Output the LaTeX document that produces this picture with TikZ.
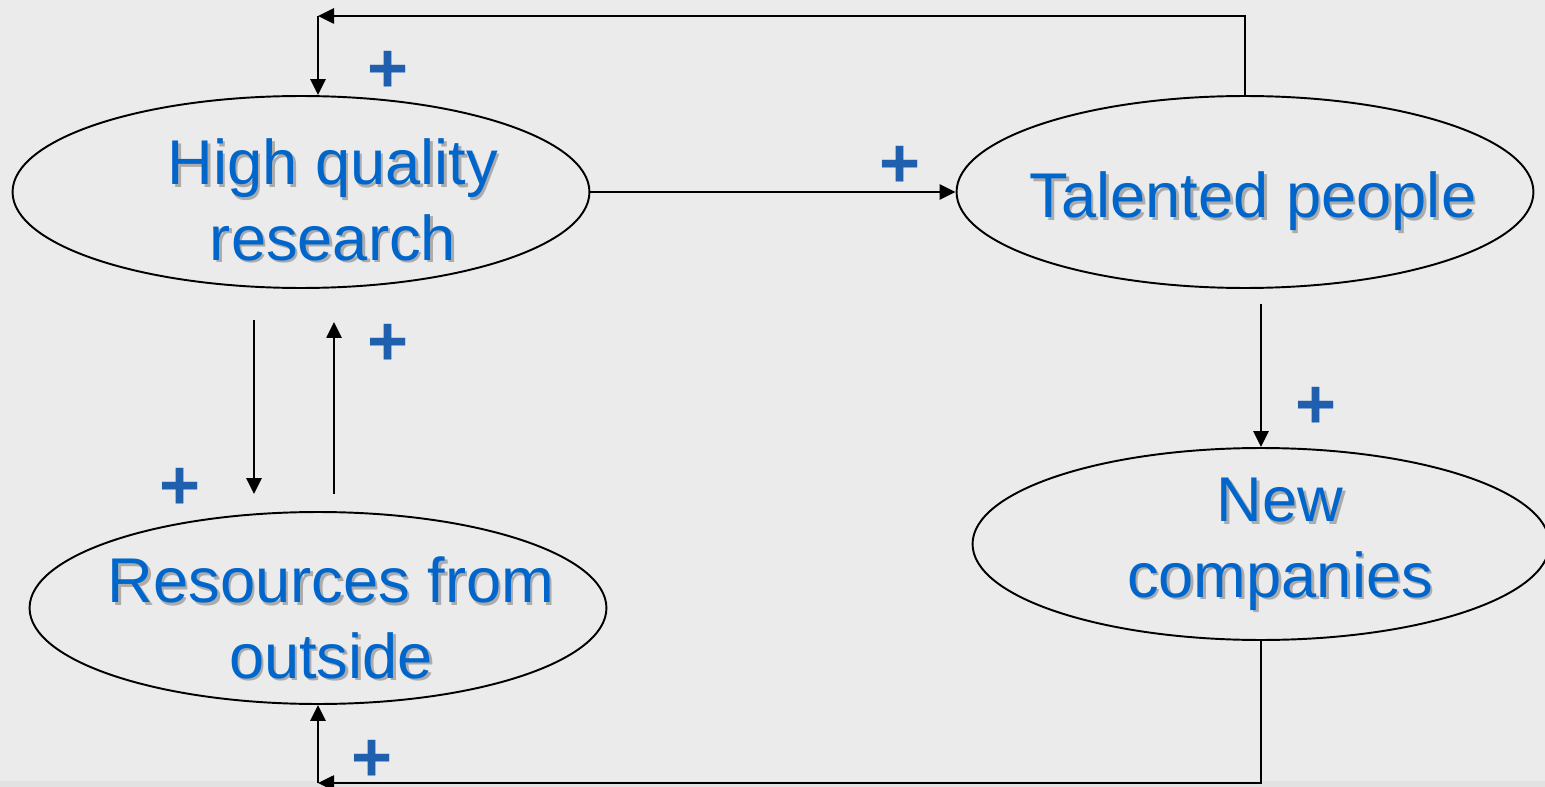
\documentclass[tikz,border=0pt]{standalone}
\usepackage{fontspec}
\setmainfont{Liberation Sans}
\usetikzlibrary{shapes,arrows.meta,positioning,calc}

\definecolor{bgGray}{HTML}{EBEBEB}
\definecolor{stripGray}{HTML}{E2E2E2}
\definecolor{txtBlue}{HTML}{0066CC}
\definecolor{plusBlue}{HTML}{1F5FAD}
\definecolor{shadowGray}{HTML}{ABABAB}

\tikzset{
    loop/.style={ellipse, draw, line width=1.1pt, minimum width=11.54cm, minimum height=3.84cm, inner sep=0pt},
    lbl/.style={text=txtBlue, font=\fontsize{36}{42.7}\selectfont, align=center, anchor=base},
    lblshadow/.style={lbl, text=shadowGray},
    sign/.style={text=plusBlue, font=\fontsize{40}{40}\selectfont\bfseries, inner sep=0pt},
    link/.style={line width=1.5pt, -{Triangle[length=0.32cm,width=0.3cm]}},
}

\begin{document}
\begin{tikzpicture}[x=0.02cm, y=-0.02cm]
    \useasboundingbox (0,0) rectangle (1545,787);
    \fill[bgGray] (0,0) rectangle (1545,787);
    \fill[stripGray] (0,781) rectangle (1545,787);

    % the four loops
    \node[loop] (hqr) at (301,192) {};
    \node[loop] (tp) at (1245,192) {};
    \node[loop] (nc) at (1261,544) {};
    \node[loop] (ro) at (318,608) {};

    % labels, with their shadows (anchored on the last line)
    \node[lblshadow] (hqr-sh) at (335.5,262.5) {High quality\\research};
    \node[lbl] (hqr-txt) at (333,260) {High quality\\research};
    \node[lblshadow] (tp-sh) at (1255.5,220.5) {Talented people};
    \node[lbl] (tp-txt) at (1253,218) {Talented people};
    \node[lblshadow] (nc-sh) at (1282.5,599.5) {New\\companies};
    \node[lbl] (nc-txt) at (1280,597) {New\\companies};
    \node[lblshadow] (ro-sh) at (333.5,680.5) {Resources from\\outside};
    \node[lbl] (ro-txt) at (331,678) {Resources from\\outside};

    % connectors
    \coordinate (topturn) at (318,16);
    \draw[link] (tp.north) |- (topturn);
    \draw[link] (topturn) -- (topturn |- hqr.north);
    \draw[link] (hqr.east) -- (tp.west);

    \coordinate (dnstart) at (254,320);
    \coordinate (dnend) at (254,494);
    \draw[link] (dnstart) -- (dnend);
    \coordinate (upstart) at (334,494);
    \coordinate (upend) at (334,322);
    \draw[link] (upstart) -- (upend);

    \coordinate (tpdn) at (1261,304);
    \draw[link] (tpdn) -- (tpdn |- nc.north);

    \coordinate (botturn) at (318,783);
    \draw[link] (nc.south) |- (botturn);
    \draw[link] (botturn) -- (botturn |- ro.south);

    % polarity signs
    \node[sign] (p1) at (388,72) {+};
    \node[sign] (p2) at (388,345) {+};
    \node[sign] (p3) at (180,489) {+};
    \node[sign] (p4) at (900,167) {+};
    \node[sign] (p5) at (1316,408) {+};
    \node[sign] (p6) at (372,761) {+};
\end{tikzpicture}
\end{document}
